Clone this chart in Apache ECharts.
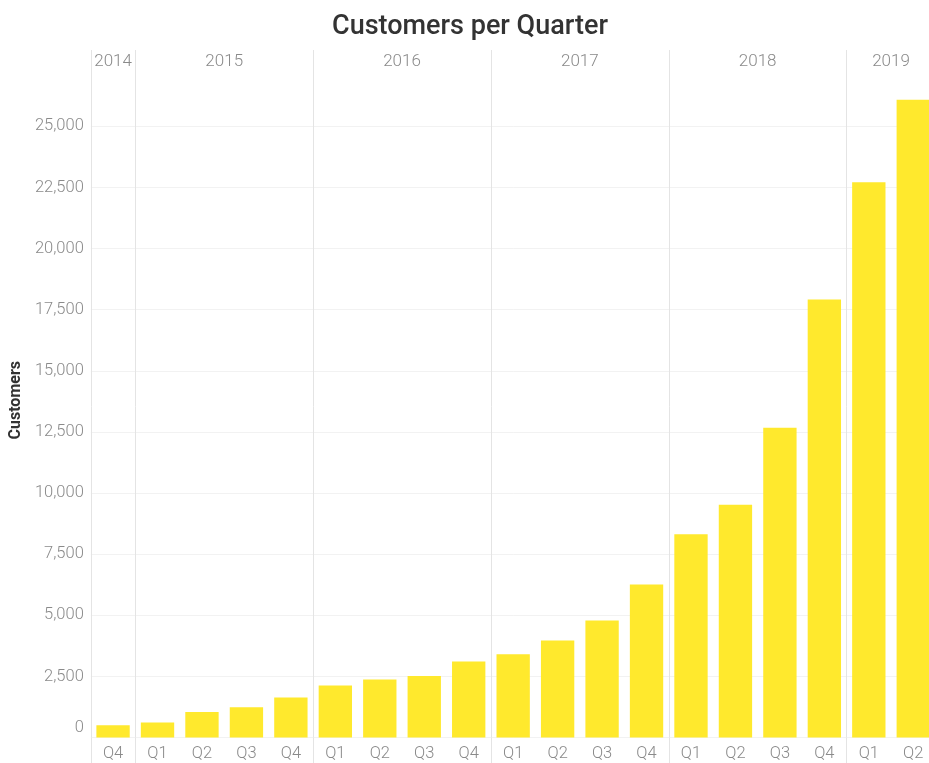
<!DOCTYPE html>
<html>
<head>
<meta charset="utf-8">
<script src="https://cdn.jsdelivr.net/npm/echarts@6/dist/echarts.min.js"></script>
<style>
html,body{margin:0;padding:0;background:#fff;overflow:hidden;}
#chart{width:940px;height:763px;}
</style>
</head>
<body>
<div id="chart"></div>
<script>
// ---- data ----
var quarters = ['Q4','Q1','Q2','Q3','Q4','Q1','Q2','Q3','Q4','Q1','Q2','Q3','Q4','Q1','Q2','Q3','Q4','Q1','Q2'];
var years = ['2014','2015','2016','2017','2018','2019'];
var quartersPerYear = [1, 4, 4, 4, 4, 2];
var customers = [500, 610, 1040, 1240, 1640, 2130, 2370, 2520, 3110, 3410, 3970, 4790, 6260, 8310, 9520, 12670, 17920, 22710, 26090];
var yTickStep = 2500;

// ---- derived positions on the year axis (in quarter units) ----
var separators = [0];
var yearCenters = [];
var acc = 0;
quartersPerYear.forEach(function (n, i) {
  yearCenters.push(acc + n / 2);
  acc += n;
  if (i < quartersPerYear.length - 1) separators.push(acc);
});
var centerToYear = {};
yearCenters.forEach(function (c, i) { centerToYear[c] = years[i]; });

var FONT = 'Roboto, "Noto Sans", sans-serif';
var LABEL_COLOR = '#8a8a8a';
var VLINE = '#e4e4e4';

var chart = echarts.init(document.getElementById('chart'), null, {renderer: 'canvas'});
var fmt = function (v) { return v.toLocaleString('en-US'); };

chart.setOption({
  animation: false,
  backgroundColor: '#ffffff',
  title: {
    text: 'Customers per Quarter',
    left: 'center',
    top: 9,
    padding: [5, 18, 5, 5],
    textStyle: {fontFamily: FONT, fontSize: 27, fontWeight: 500, color: '#333333'}
  },
  grid: {left: 90.5, top: 75, width: 845, height: 662.5, containLabel: false},
  xAxis: [
    {
      type: 'category',
      data: quarters,
      position: 'bottom',
      axisLine: {show: false},
      axisTick: {show: false},
      splitLine: {show: false},
      axisLabel: {
        interval: 0, margin: 8,
        fontFamily: FONT, fontSize: 16.5, fontWeight: 300, color: LABEL_COLOR
      }
    },
    {
      type: 'value',
      min: 0, max: quarters.length,
      position: 'top',
      axisLine: {show: false},
      axisTick: {show: true, customValues: separators, length: 25, inside: false,
                 lineStyle: {color: VLINE, width: 1}},
      splitLine: {show: true, lineStyle: {color: VLINE, width: 1}},
      axisLabel: {
        customValues: yearCenters,
        margin: 5,
        formatter: function (v) { return centerToYear[v] || ''; },
        fontFamily: FONT, fontSize: 17, fontWeight: 300, color: LABEL_COLOR
      }
    },
    {
      type: 'value',
      min: 0, max: quarters.length,
      position: 'bottom',
      axisLine: {show: false},
      axisTick: {show: true, customValues: separators, length: 26, inside: false,
                 lineStyle: {color: VLINE, width: 1}},
      splitLine: {show: false},
      axisLabel: {show: false}
    }
  ],
  yAxis: {
    type: 'value',
    min: 0, max: 27100, interval: yTickStep,
    name: 'Customers',
    nameLocation: 'middle',
    nameGap: 63,
    nameTextStyle: {fontFamily: FONT, fontSize: 16, fontWeight: 'bold', color: '#333333', padding: [0, 0, 0, 12]},
    axisLine: {show: false},
    axisTick: {show: false},
    splitLine: {show: true, showMaxLine: false, lineStyle: {color: '#f2f2f2', width: 1}},
    axisLabel: {
      showMaxLabel: false,
      margin: 7,
      fontFamily: FONT, fontSize: 16.5, fontWeight: 300, color: LABEL_COLOR,
      formatter: function (v) { return v === 0 ? '{z|0}' : fmt(v); },
      rich: {z: {fontFamily: FONT, fontSize: 16.5, fontWeight: 300, color: LABEL_COLOR, padding: [0, 0, 20, 0]}}
    }
  },
  series: [
    {
      type: 'bar',
      xAxisIndex: 0,
      yAxisIndex: 0,
      data: customers,
      barWidth: '75%',
      itemStyle: {color: '#ffe92d'},
      z: 3
    }
  ]
});
</script>
</body>
</html>
